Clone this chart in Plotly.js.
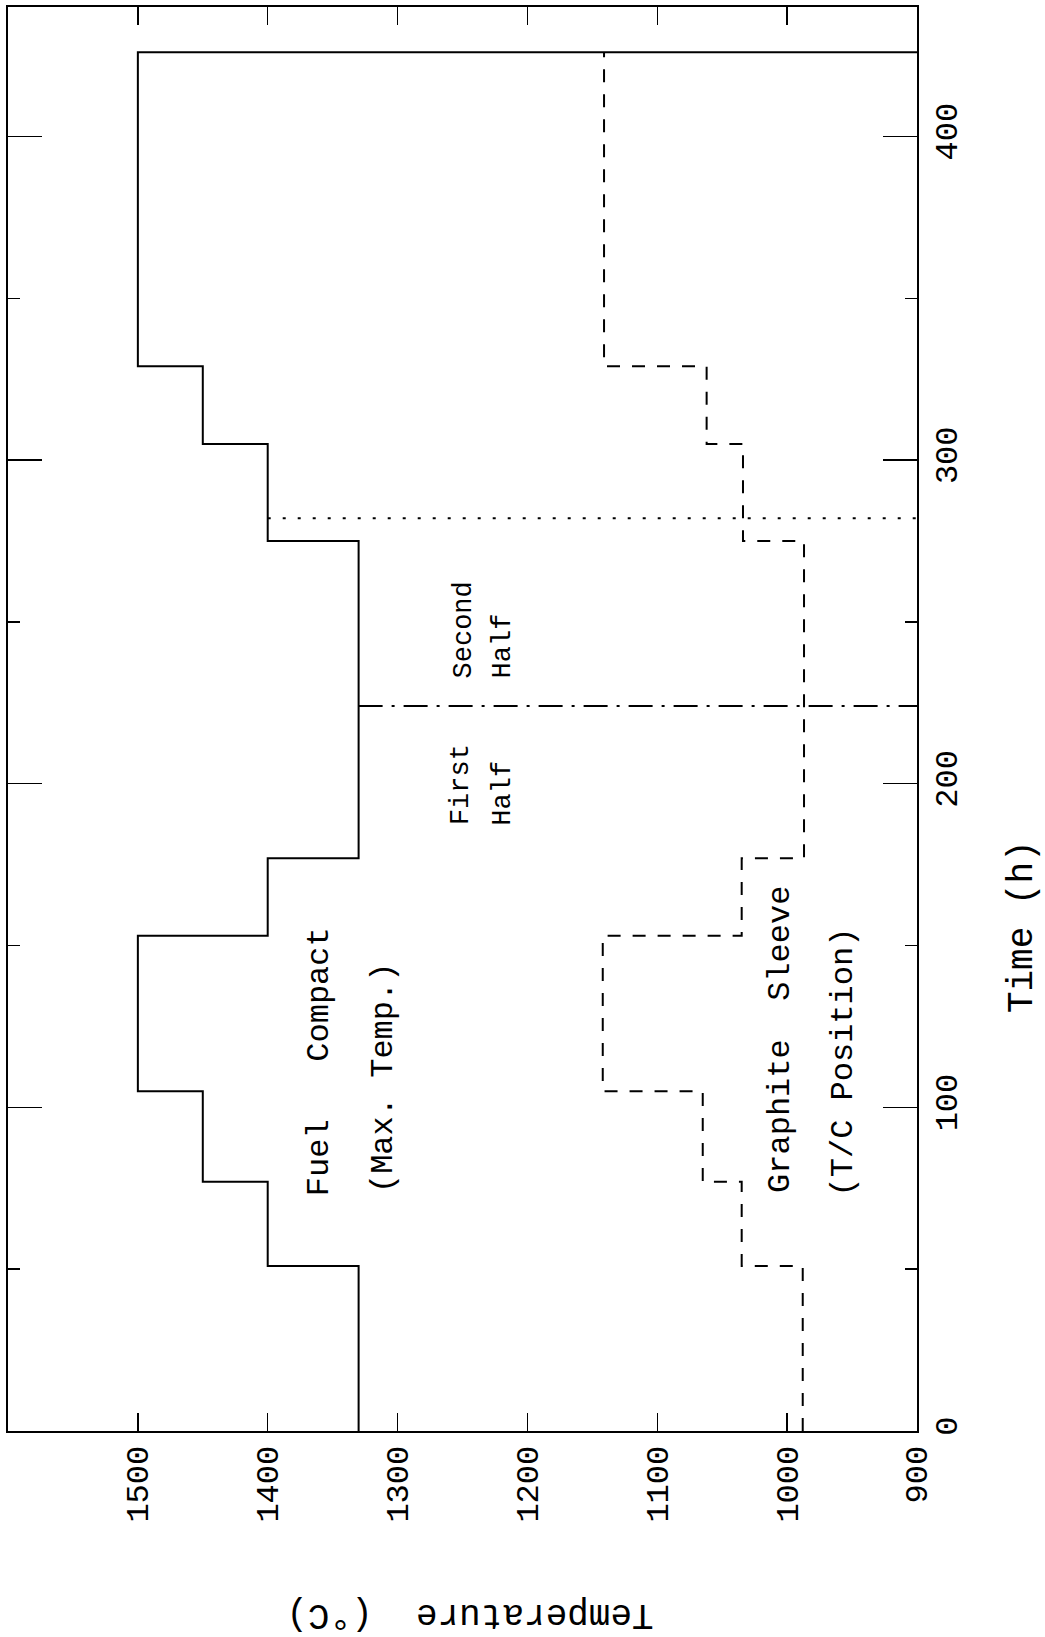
<!DOCTYPE html>
<html>
<head>
<meta charset="utf-8">
<script src="https://cdn.plot.ly/plotly-3.0.1.min.js"></script>
<style>
  html, body { margin: 0; padding: 0; background: #ffffff; }
  #chart { width: 1045px; height: 1637px; }
</style>
</head>
<body>
<div id="chart"></div>
<script>
// ---- Data ----
// Times (h) at which the temperature steps change
const stepTimes = [0, 51, 77, 105, 153, 177, 275, 305, 329, 426];
// Fuel compact maximum temperature (°C) for each step (last point closes to the axis edge)
const fuelCompactTemps = [1330, 1400, 1450, 1500, 1400, 1330, 1400, 1450, 1500, 900];
// Graphite sleeve temperature at T/C position (°C)
const graphiteSleeveTemps = [988, 1035, 1065, 1142, 1035, 987, 1034, 1062, 1141, 1141];
// Divider between first and second half (dash-dot)
const halfDividerTimes = [224, 224];
const halfDividerTemps = [1330, 900];
// Dotted marker line
const dottedTimes = [282, 282];
const dottedTemps = [1400, 900];
// Axis ticks
const tempTicks = [900, 1000, 1100, 1200, 1300, 1400, 1500];
const tempTickText = ['900', '1000', '1100', '1200', '1300', '1400', '1500'];
const timeTicks = [0, 100, 200, 300, 400];
const timeTickText = ['0', '100', '200', '300', '400'];

const FONT = 'Liberation Mono, DejaVu Sans Mono, monospace';

const traces = [
  {
    name: 'Fuel Compact (Max. Temp.)',
    x: fuelCompactTemps, y: stepTimes,
    mode: 'lines', line: {shape: 'vh', color: '#000', width: 2},
    hoverinfo: 'skip'
  },
  {
    name: 'Graphite Sleeve (T/C Position)',
    x: graphiteSleeveTemps, y: stepTimes,
    mode: 'lines', line: {shape: 'vh', color: '#000', width: 2, dash: '13px,12px'},
    hoverinfo: 'skip'
  },
  {
    name: 'First/Second half',
    x: halfDividerTemps, y: halfDividerTimes,
    mode: 'lines', line: {color: '#000', width: 2, dash: '24px,9px,3px,9px'},
    hoverinfo: 'skip'
  },
  {
    name: 'Dotted',
    x: dottedTemps, y: dottedTimes,
    mode: 'lines', line: {color: '#000', width: 2, dash: '3px,12px'},
    hoverinfo: 'skip'
  }
];

function ann(text, x, y, size) {
  return {
    text: text, x: x, y: y, xref: 'x', yref: 'y',
    textangle: -90, showarrow: false,
    xanchor: 'center', yanchor: 'bottom', align: 'left',
    font: {family: FONT, size: size, color: '#000'}
  };
}

const annotations = [
  ann('Fuel   Compact', 1360, 72, 32),
  ann('(Max. Temp.)', 1311, 73, 32),
  ann('Graphite  Sleeve', 1005, 73, 32),
  ann('(T/C Position)', 957, 72, 32),
  ann('First', 1251, 186.5, 27),
  ann('Half', 1219, 186.5, 27),
  ann('Second', 1249, 232, 27),
  ann('Half', 1219, 232, 27),
  {
    text: 'Time (h)', xref: 'paper', yref: 'y', x: 1.1155, y: 156,
    textangle: -90, showarrow: false, xanchor: 'center', yanchor: 'middle',
    font: {family: FONT, size: 36, color: '#000'}
  },
  {
    text: 'Temperature  (°C)', xref: 'x', yref: 'paper', x: 1244, y: -0.129,
    textangle: 180, showarrow: false, xanchor: 'center', yanchor: 'middle',
    font: {family: FONT, size: 36, color: '#000'}
  }
];

const layout = {
  width: 1045, height: 1637,
  margin: {l: 8, r: 128, t: 7, b: 206},
  paper_bgcolor: '#ffffff', plot_bgcolor: '#ffffff',
  showlegend: false,
  xaxis: {
    range: [1600, 900],
    tickmode: 'array', tickvals: tempTicks, ticktext: tempTickText,
    ticks: 'inside', ticklen: 18, tickwidth: 1.5, tickcolor: '#000',
    tickangle: -90,
    tickfont: {family: FONT, size: 32, color: '#000'},
    showline: true, linecolor: '#000', linewidth: 2, mirror: 'ticks',
    showgrid: false, zeroline: false
  },
  yaxis: {
    range: [0, 440], side: 'right',
    tickmode: 'array', tickvals: timeTicks, ticktext: timeTickText,
    ticks: 'inside', ticklen: 34, tickwidth: 1.5, tickcolor: '#000',
    minor: {tickmode: 'linear', tick0: 0, dtick: 50, ticks: 'inside', ticklen: 12, tickwidth: 1.5, tickcolor: '#000'},
    tickangle: -90,
    tickfont: {family: FONT, size: 32, color: '#000'},
    showline: true, linecolor: '#000', linewidth: 2, mirror: 'ticks',
    showgrid: false, zeroline: false
  },
  annotations: annotations
};

Plotly.newPlot('chart', traces, layout, {staticPlot: true, displayModeBar: false});
</script>
</body>
</html>
